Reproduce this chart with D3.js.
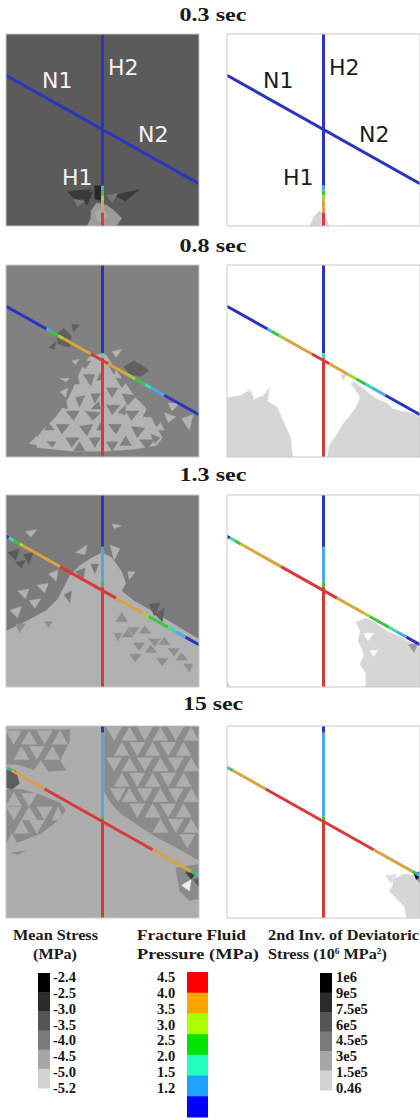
<!DOCTYPE html>
<html>
<head>
<meta charset="utf-8">
<script src="https://cdn.jsdelivr.net/npm/d3@7"></script>
<style>
body { margin: 0; background: #fff; }
</style>
</head>
<body>
<svg id="fig" width="420" height="1120"></svg>
<script>
// ---- data ----
var timeLabels = ["0.3 sec", "0.8 sec", "1.3 sec", "15 sec"];

// fracture label anchors (model units 0-100)
var fractureLabels = [["N1", 18.7, 28.1], ["H2", 52.8, 21.4], ["N2", 68.4, 56.2], ["H1", 29, 78.6]];

// fracture geometry: vertical H at x, inclined N between two ends
var hX = 50;
var nEnds = [[0, 21.5], [100, 78]];

// fluid pressure along fractures [from, to, MPa]  (H: by y, N: by x)
var hPress03 = [[0, 79, 1.3], [79, 81.5, 1.8], [81.5, 84, 2.7], [84, 87, 3.2], [87, 93, 3.7], [93, 100, 4.3]];
var nPress03 = [[0, 100, 1.3]];
var hPress08 = [[0, 46, 1.3], [46, 48.5, 2.2], [48.5, 100, 4.3]];
var nPress08 = [[0, 21, 1.3], [21, 23, 1.8], [23, 27, 2.7], [27, 30, 3.2], [30, 44, 3.7], [44, 53, 4.3],
                [53, 63, 3.7], [63, 67, 3.2], [67, 72, 2.7], [72, 75, 2.2], [75, 82, 1.8], [82, 100, 1.3]];
var hPress13 = [[0, 27, 1.3], [27, 45, 1.8], [45, 48, 2.7], [48, 100, 4.3]];
var nPress13 = [[0, 1.5, 1.3], [1.5, 4, 2.2], [4, 7, 2.7], [7, 9, 3.2], [9, 28, 3.7], [28, 57, 4.3],
                [57, 71, 3.7], [71, 74, 3.2], [74, 84, 2.7], [84, 88, 2.2], [88, 93, 1.8], [93, 100, 1.3]];
var hPress150 = [[0, 3.5, 1.3], [3.5, 47, 1.8], [47, 49, 2.7], [49, 100, 4.3]];
var nPress150 = [[0, 1.5, 1.8], [1.5, 3, 2.7], [3, 20, 3.7], [20, 76, 4.3], [76, 96, 3.7], [96, 98, 2.7], [98, 100, 1.8]];

// mean stress (MPa): background level and mesh cells [value, x1,y1, x2,y2, ...]
var meanBg = [-3.57, -4.06, -3.99, -4.63];

var meanStress03 = [
  [-3.15, 32,82, 44,81, 37,88],
  [-3.15, 38,84, 45,82, 42,89],
  [-2.9, 46,79, 50,79, 50,87, 46,86],
  [-3.15, 56,84, 69,81, 62,87],
  [-3.94, 35,86, 41,87, 37,90],
  [-3.94, 52,84, 58,83, 55,88],
  [-4.4, 44,92, 47,88, 52,89, 56,92, 60,96, 57,100, 42,100, 44,96],
  [-4.6, 46,93, 50,91, 53,95, 48,98]
];

var meanStress08 = [
  [-4.71, 50,46, 43,48, 40,52, 37,59, 34,66, 31,72, 26,79, 19,86, 16,90, 16,95, 34,97, 50,97, 66,96, 78,94, 81,90, 76,81, 72,74, 67,69, 60,59, 55,52, 52,47],
  [-4.06, 37,50, 44,50, 41,54], [-4.06, 40,57, 46,57, 44,63], [-4.06, 44,67, 49,67, 46,72],
  [-4.06, 36,69, 41,68, 38,74], [-4.06, 31,76, 38,76, 35,81], [-4.06, 41,76, 49,77, 45,81],
  [-4.06, 26,83, 33,83, 29,88], [-4.06, 38,84, 45,83, 42,89], [-4.06, 31,90, 38,90, 34,95],
  [-4.06, 43,90, 49,90, 46,95], [-4.06, 21,92, 26,92, 24,95], [-4.06, 53,52, 58,52, 56,57],
  [-4.06, 57,59, 64,59, 60,64], [-4.06, 52,64, 58,64, 55,69], [-4.06, 60,67, 68,68, 63,73],
  [-4.06, 52,73, 59,73, 55,78], [-4.06, 62,76, 69,76, 65,81], [-4.06, 53,83, 60,83, 57,88],
  [-4.06, 65,84, 72,85, 68,90], [-4.06, 52,92, 58,92, 55,97], [-4.06, 69,91, 77,91, 73,96],
  [-4.06, 59,94, 65,94, 62,89], [-4.06, 47,60, 50,60, 49,56],
  [-4.06, 34,62, 38,62, 37,57], [-4.06, 28,74, 31,70, 32,75], [-4.06, 20,86, 25,86, 22,82],
  [-4.06, 35,97, 41,97, 38,92], [-4.06, 44,75, 48,71, 49,75], [-4.06, 58,77, 62,73, 62,78],
  [-4.06, 71,79, 75,79, 73,75], [-4.06, 75,88, 80,90, 77,93], [-4.06, 47,86, 51,86, 49,82],
  [-4.06, 64,64, 68,61, 69,65],
  [-4.71, 55,45, 60,44, 57,48], [-4.71, 84,72, 90,72, 86,76], [-4.71, 82,77, 88,79, 84,82],
  [-4.71, 91,80, 97,78, 95,86], [-4.71, 28,59, 33,59, 31,61], [-4.71, 34,50, 38,49, 36,52],
  [-4.71, 12,93, 16,89, 17,94], [-4.71, 28,66, 32,64, 31,69], [-4.71, 77,86, 82,86, 80,82],
  [-3.64, 26,36, 30,33, 34,37, 33,43, 27,41], [-3.64, 22,43, 26,40, 25,44],
  [-3.64, 34,31, 38,31, 35,35], [-3.64, 61,53, 66,50, 70,52, 74,55, 70,58, 64,57]
];

var meanStress13 = [
  [-4.68, 0,71, 10,66, 21,60, 27,54, 30,48, 33,42, 38,37, 44,33, 50,30, 55,33, 60,40, 62,46, 60,50, 66,55, 75,60, 85,66, 93,71, 100,75, 100,100, 0,100],
  [-3.99, 36,40, 41,38, 40,44], [-3.99, 44,36, 48,36, 46,41], [-3.99, 30,52, 34,50, 33,56],
  [-4.68, 2,60, 8,58, 6,64], [-4.68, 12,55, 18,54, 15,59], [-4.68, 16,47, 22,46, 20,51],
  [-4.68, 6,50, 12,49, 10,54], [-4.68, 22,41, 27,39, 26,45], [-4.68, 10,19, 16,18, 13,22],
  [-4.68, 36,30, 42,26, 41,31], [-4.68, 55,15, 60,16, 56,17.5], [-4.68, 54,26, 59,28, 56,34],
  [-4.68, 63,40, 67,40, 64,44],
  [-4.25, 57,66, 63,66, 60,61], [-4.25, 63,69, 69,69, 66,73], [-4.25, 69,72, 75,72, 72,68],
  [-4.25, 74,75, 80,75, 77,79], [-4.25, 79,78, 85,78, 82,74], [-4.25, 84,80, 90,80, 87,84],
  [-4.25, 60,74, 66,74, 63,70], [-4.25, 66,77, 72,77, 69,81], [-4.25, 72,82, 78,82, 75,78],
  [-4.25, 78,85, 84,85, 81,89], [-4.25, 88,86, 94,86, 91,82], [-4.25, 64,83, 70,83, 67,87],
  [-4.25, 92,88, 97,88, 95,92], [-4.25, 56,72, 60,72, 58,76], [-4.25, 5,67, 10,67, 7,72],
  [-4.25, 20,66, 24,66, 22,69],
  [-3.57, 1,30, 7,28, 5,34], [-3.57, 9,31, 14,30, 12,36], [-3.57, 5,35, 10,34, 8,38],
  [-3.64, 74,57, 80,56, 77,63], [-3.64, 77,62, 82,59, 81,66]
];

var meanStress150 = [
  // upper-left coarse zone
  [-4.19, 0,2, 33,2, 33,8, 28,18, 31,23, 18,24, 6,20, 0,20],
  [-4.63, 0,2.5, 8,2.5, 4,9.5], [-4.63, 8,9.5, 16,9.5, 12,2.5], [-4.63, 16,2.5, 24,2.5, 20,9.5],
  [-4.63, 24,9.5, 32,9.5, 28,2.5], [-4.63, 4,17.5, 12,17.5, 8,10.5], [-4.63, 12,10.5, 20,10.5, 16,17.5],
  [-4.63, 20,17.5, 28,17.5, 24,10.5], [-4.63, 14,24, 22,24, 18,18],
  [-3.6, 0,22, 5,23, 7,30, 3,33, 0,32],
  // left middle zone
  [-4.19, 0,33, 8,33, 18,36, 28,40, 31,44, 26,50, 18,56, 8,60, 0,62],
  [-4.63, 0,41.5, 8,41.5, 4,34.5], [-4.63, 8,35, 16,35, 12,42], [-4.63, 0,42, 8,42, 4,49],
  [-4.63, 8,49, 16,49, 12,42], [-4.63, 16,42, 24,42, 20,49], [-4.63, 24,49, 30,49, 27,42],
  [-4.63, 4,56, 12,56, 8,49], [-4.63, 12,49, 20,49, 16,56], [-4.63, 0,62, 6,62, 3,56],
  [-4.19, 3,66, 10,65, 6,67],
  // upper-right mesh zone
  [-4.19, 51,0, 100,0, 100,70, 93,66, 86,62, 78,58, 72,54, 66,50, 60,46, 56,42, 53,38, 51,34],
  [-4.63, 52,0.5, 60,0.5, 56,7.5], [-4.63, 60,7.5, 68,7.5, 64,0.5], [-4.63, 68,0.5, 76,0.5, 72,7.5],
  [-4.63, 76,7.5, 84,7.5, 80,0.5], [-4.63, 84,0.5, 92,0.5, 88,7.5], [-4.63, 92,7.5, 100,7.5, 96,0.5],
  [-4.63, 56,15.5, 64,15.5, 60,8.5], [-4.63, 64,8.5, 72,8.5, 68,15.5], [-4.63, 72,15.5, 80,15.5, 76,8.5],
  [-4.63, 80,8.5, 88,8.5, 84,15.5], [-4.63, 88,15.5, 96,15.5, 92,8.5],
  [-4.63, 52,16.5, 60,16.5, 56,23.5], [-4.63, 60,23.5, 68,23.5, 64,16.5], [-4.63, 68,16.5, 76,16.5, 72,23.5],
  [-4.63, 76,23.5, 84,23.5, 80,16.5], [-4.63, 84,16.5, 92,16.5, 88,23.5], [-4.63, 92,23.5, 100,23.5, 96,16.5],
  [-4.63, 56,31.5, 64,31.5, 60,24.5], [-4.63, 64,24.5, 72,24.5, 68,31.5], [-4.63, 72,31.5, 80,31.5, 76,24.5],
  [-4.63, 80,24.5, 88,24.5, 84,31.5], [-4.63, 88,31.5, 96,31.5, 92,24.5],
  [-4.63, 54,32.5, 62,32.5, 58,39.5], [-4.63, 60,39.5, 68,39.5, 64,32.5], [-4.63, 68,32.5, 76,32.5, 72,39.5],
  [-4.63, 76,39.5, 84,39.5, 80,32.5], [-4.63, 84,32.5, 92,32.5, 88,39.5], [-4.63, 92,39.5, 100,39.5, 96,32.5],
  [-4.63, 64,40.5, 72,40.5, 68,47.5], [-4.63, 72,47.5, 80,47.5, 76,40.5], [-4.63, 80,40.5, 88,40.5, 84,47.5],
  [-4.63, 88,47.5, 96,47.5, 92,40.5],
  [-4.63, 76,55.5, 84,55.5, 80,48.5], [-4.63, 84,48.5, 92,48.5, 88,55.5], [-4.63, 92,55.5, 100,55.5, 96,48.5],
  [-4.63, 90,56.5, 98,56.5, 94,63.5],
  // lower-right corner
  [-4.19, 88,74, 100,72, 100,90, 95,91, 90,86],
  [-3.2, 93,76, 98,77, 96,80], [-5.5, 91,83, 96,80, 95,86], [-3.6, 97,80, 100,79, 100,84]
];

// 2nd invariant of deviatoric stress, cells [value, x1,y1, ...]
var devStress03 = [[1.6e5, 45,95, 48,92, 51,95, 53,100, 43,100]];
var devStress08 = [
  [1.6e5, 0,69, 7,68, 12,65, 14,70, 19,68, 22,64, 21,71, 26,74, 29,81, 33,90, 34,100, 0,100],
  [1.6e5, 52,100, 53,94, 57,88, 60,83, 64,78, 67,74, 69,69, 66,64, 64,62, 66,61, 70,64, 74,67, 78,70, 83,72, 86,75, 90,76, 95,77, 100,79, 100,100],
  [1.6e5, 59,57, 62,57, 60,60]
];
var devStress13 = [
  [1.6e5, 67,66, 72,64, 76,66, 83,71, 90,74, 97,78, 100,79, 100,100, 72,100, 72,93, 69,88, 71,83, 68,76, 69,71],
  [0, 71,72, 76,72, 73,76], [0, 74,81, 78,81, 76,84],
  [4e5, 94,78, 99,77, 97,82], [1.6e5, 0,97, 2,100, 0,100]
];
var devStress150 = [
  [1.6e5, 86,80, 92,77, 97,78, 100,80, 100,100, 93,100, 92,94, 88,90, 84,86, 86,83],
  [1.2e5, 82,78, 88,77, 85,82], [5e5, 96,76, 100,76, 100,82], [1e6, 97,77, 100,78, 98,80]
];

// legends
var meanTicks = ["-2.4", "-2.5", "-3.0", "-3.5", "-4.0", "-4.5", "-5.0", "-5.2"];
var pressTicks = ["4.5", "4.0", "3.5", "3.0", "2.5", "2.0", "1.5", "1.2"];
var pressBands = [4.25, 3.75, 3.25, 2.75, 2.25, 1.75, 1.35];
var devTicks = ["1e6", "9e5", "7.5e5", "6e5", "4.5e5", "3e5", "1.5e5", "0.46"];
var greyBands = ["#000000", "#2b2b2b", "#555555", "#7b7b7b", "#a6a6a6", "#d3d3d3"];

// ---- layout ----
var svg = d3.select("#fig");
var PW = 193, PH = 192;
var colX = [6, 227];
var rowY = [34, 265, 495, 726];
var titleY = [21, 252, 481, 710];
var serif = "'Liberation Serif', 'Times New Roman', serif";

var xs = d3.scaleLinear().domain([0, 100]).range([0, PW]);
var ys = d3.scaleLinear().domain([0, 100]).range([0, PH]);
var nY = d3.scaleLinear().domain([nEnds[0][0], nEnds[1][0]]).range([nEnds[0][1], nEnds[1][1]]);

var meanFill = d3.scaleLinear().domain([-2.4, -5.2]).range(["#000000", "#d9d9d9"]);
var devFill = d3.scaleLinear().domain([0, 1e6]).range(["#ffffff", "#000000"]);
var pressLine = d3.scaleThreshold().domain([1.5, 2, 2.5, 3, 3.5, 4])
    .range(["#2a34c2", "#44ace6", "#3fdcb0", "#3cc444", "#a8d134", "#d9a340", "#d83a3a"]);
var pressLegend = d3.scaleThreshold().domain([1.5, 2, 2.5, 3, 3.5, 4])
    .range(["#0000ff", "#1ea4ff", "#1effc0", "#00e400", "#aaff00", "#ffa500", "#ff0000"]);

svg.append("defs").append("clipPath").attr("id", "pclip")
    .append("rect").attr("width", PW).attr("height", PH);

function cellPath(d) {
    var s = "";
    for (var i = 1; i < d.length; i += 2) {
        s += (i == 1 ? "M" : "L") + xs(d[i]) + "," + ys(d[i + 1]);
    }
    return s + "Z";
}

function drawPanel(col, row, cells, fill, bgValue, hSegs, nSegs, labelColor) {
    var g = svg.append("g").attr("transform", "translate(" + colX[col] + "," + rowY[row] + ")");
    var inner = g.append("g").attr("clip-path", "url(#pclip)");

    inner.append("rect").attr("width", PW).attr("height", PH).attr("fill", fill(bgValue));

    inner.selectAll("path.cell").data(cells).enter().append("path")
        .attr("class", "cell")
        .attr("d", cellPath)
        .attr("fill", function(d) { return fill(d[0]); })
        .attr("stroke", function(d) { return fill(d[0]); })
        .attr("stroke-width", 0.4);

    inner.selectAll("line.h").data(hSegs).enter().append("line")
        .attr("class", "h")
        .attr("x1", xs(hX)).attr("x2", xs(hX))
        .attr("y1", function(d) { return ys(d[0]); })
        .attr("y2", function(d) { return ys(d[1]); })
        .attr("stroke", function(d) { return pressLine(d[2]); })
        .attr("stroke-width", 3);

    inner.selectAll("line.n").data(nSegs).enter().append("line")
        .attr("class", "n")
        .attr("x1", function(d) { return xs(d[0]); })
        .attr("y1", function(d) { return ys(nY(d[0])); })
        .attr("x2", function(d) { return xs(d[1]); })
        .attr("y2", function(d) { return ys(nY(d[1])); })
        .attr("stroke", function(d) { return pressLine(d[2]); })
        .attr("stroke-width", 3);

    if (labelColor) {
        g.selectAll("text.fl").data(fractureLabels).enter().append("text")
            .attr("class", "fl")
            .attr("font-family", "'DejaVu Sans', Verdana, sans-serif")
            .attr("font-size", 22)
            .attr("x", function(d) { return xs(d[1]); })
            .attr("y", function(d) { return ys(d[2]); })
            .attr("fill", labelColor)
            .text(function(d) { return d[0]; });
    }

    g.append("rect").attr("width", PW).attr("height", PH)
        .attr("fill", "none").attr("stroke", "#c9c9c9").attr("stroke-width", 1);
}

// stretch a text horizontally to a given width (the source figure is widened)
function fitted(size, x, y, w, anchor, build) {
    var t = svg.append("text")
        .attr("font-family", serif).attr("font-weight", "bold").attr("font-size", size)
        .attr("fill", "#1a1a1a").attr("text-anchor", anchor);
    build(t);
    var bw = t.node().getComputedTextLength();
    t.attr("transform", "translate(" + x + "," + y + ") scale(" + (w / bw) + ",1)");
    return t;
}

var meanSets = [meanStress03, meanStress08, meanStress13, meanStress150];
var devSets = [devStress03, devStress08, devStress13, devStress150];
var hSets = [hPress03, hPress08, hPress13, hPress150];
var nSets = [nPress03, nPress08, nPress13, nPress150];
var titleW = [67, 67, 67, 60];

for (var r = 0; r < 4; r++) {
    fitted(19, 213, titleY[r], titleW[r], "middle", function(t) { t.text(timeLabels[r]); });
    drawPanel(0, r, meanSets[r], meanFill, meanBg[r], hSets[r], nSets[r], r == 0 ? "#f4f4f4" : null);
    drawPanel(1, r, devSets[r], devFill, 0, hSets[r], nSets[r], r == 0 ? "#1c1c1c" : null);
}

// ---- legends ----
fitted(14, 55.5, 940, 85, "middle", function(t) { t.text("Mean Stress"); });
fitted(14, 55, 959, 44, "middle", function(t) { t.text("(MPa)"); });
fitted(14, 137, 940, 109, "start", function(t) { t.text("Fracture Fluid"); });
fitted(14, 137, 959, 122, "start", function(t) { t.text("Pressure (MPa)"); });
fitted(14, 268, 940, 151, "start", function(t) { t.text("2nd Inv. of Deviatoric"); });
fitted(14, 268, 959, 119, "start", function(t) {
    t.append("tspan").text("Stress (10");
    t.append("tspan").attr("font-size", 8).attr("dy", -5).text("6");
    t.append("tspan").attr("dy", 5).text(" MPa");
    t.append("tspan").attr("font-size", 8).attr("dy", -5).text("2");
    t.append("tspan").attr("dy", 5).text(")");
});

var tickY = d3.scalePoint().range([982, 1093]);

function greyBar(x, y0, y1, w) {
    var by = d3.scaleBand().domain(d3.range(greyBands.length)).range([y0, y1]);
    svg.append("g").selectAll("rect").data(greyBands).enter().append("rect")
        .attr("x", x).attr("width", w)
        .attr("y", function(d, i) { return by(i); })
        .attr("height", by.bandwidth() + 0.5)
        .attr("fill", function(d) { return d; });
}

function tickText(ticks, x) {
    var sc = tickY.copy().domain(ticks);
    svg.append("g")
        .attr("font-family", serif).attr("font-weight", "bold").attr("font-size", 14.5)
        .attr("fill", "#141414")
        .selectAll("text").data(ticks).enter().append("text")
        .attr("x", x)
        .attr("y", function(d) { return sc(d); })
        .text(function(d) { return d; });
}

greyBar(38, 973, 1088, 12);
tickText(meanTicks, 53);

var pb = d3.scaleBand().domain(pressBands).range([972, 1117]);
svg.append("g").selectAll("rect").data(pressBands).enter().append("rect")
    .attr("x", 187).attr("width", 21)
    .attr("y", function(d) { return pb(d); })
    .attr("height", pb.bandwidth() + 0.5)
    .attr("fill", function(d) { return pressLegend(d); });
tickText(pressTicks, 157);

greyBar(320, 973, 1090, 12);
tickText(devTicks, 336);
</script>
</body>
</html>
